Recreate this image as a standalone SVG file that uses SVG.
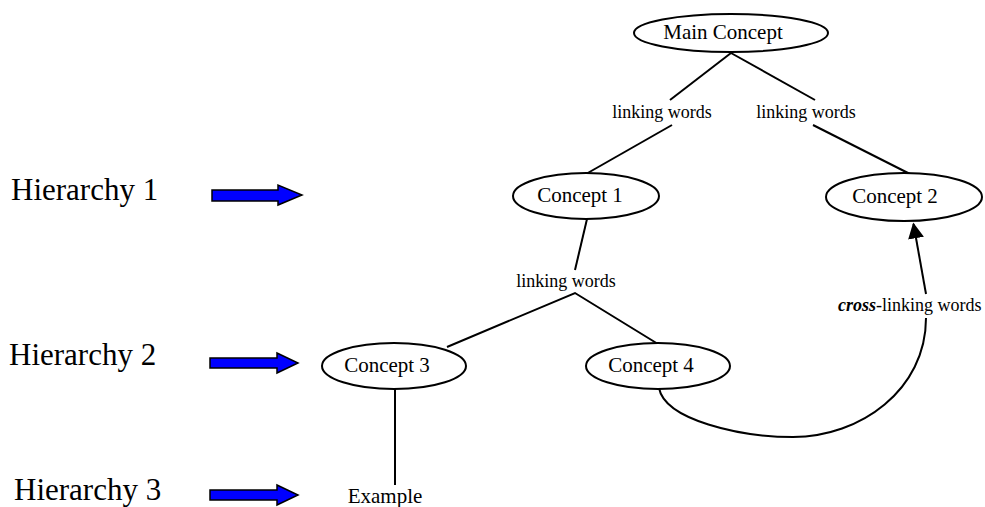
<svg xmlns="http://www.w3.org/2000/svg" width="985" height="507" viewBox="0 0 985 507">
  <defs>
    <style>
      .node { fill: #ffffff; stroke: #000000; stroke-width: 2; }
      .link { fill: none; stroke: #000000; stroke-width: 2; }
      .label { font-family: "Liberation Serif", "Times New Roman", serif; fill: #000000; }
      .concept { font-size: 21px; text-anchor: middle; }
      .words { font-size: 18px; text-anchor: middle; }
      .level { font-size: 31px; }
      .marker { fill: #0000ff; stroke: #000000; stroke-width: 1.5; stroke-linejoin: miter; }
    </style>
    <marker id="head" viewBox="0 0 10 10" refX="9" refY="5" markerWidth="16" markerHeight="16" orient="auto" markerUnits="userSpaceOnUse">
      <path d="M0,0 L10,5 L0,10 z" fill="#000000"/>
    </marker>
  </defs>

  <!-- level labels with blue block arrows -->
  <g id="level1">
    <text class="label level" x="11" y="200">Hierarchy 1</text>
    <path class="marker" d="M212,190 L278,190 L278,185 L302,195 L278,205 L278,201 L212,201 z"/>
  </g>
  <g id="level2">
    <text class="label level" x="9" y="365">Hierarchy 2</text>
    <path class="marker" d="M210,358 L277,358 L277,353 L298,363 L277,373 L277,368 L210,368 z"/>
  </g>
  <g id="level3">
    <text class="label level" x="14" y="500">Hierarchy 3</text>
    <path class="marker" d="M210,490 L277,490 L277,485 L298,495 L277,505 L277,500 L210,500 z"/>
  </g>

  <!-- connectors -->
  <g id="connectors">
    <line class="link" x1="731" y1="53" x2="670" y2="100"/>
    <line class="link" x1="731" y1="53" x2="815" y2="100"/>
    <line class="link" x1="672" y1="125" x2="586" y2="174"/>
    <line class="link" x1="813" y1="125" x2="910" y2="174"/>
    <line class="link" x1="587" y1="219" x2="575" y2="270"/>
    <polyline class="link" points="447,347 575,293 658,344"/>
    <line class="link" x1="395" y1="389" x2="395" y2="485"/>
    <line class="link" x1="926" y1="294" x2="913.5" y2="224" stroke-width="2.5" marker-end="url(#head)"/>
    <path class="link" d="M926,318 C926,390 860,437 793,437 C740,437 665,420 659,388"/>
  </g>

  <!-- concept nodes -->
  <g id="main-concept">
    <ellipse class="node" cx="731" cy="33" rx="97" ry="19"/>
    <text class="label concept" x="723" y="39">Main Concept</text>
  </g>
  <g id="concept-1">
    <ellipse class="node" cx="586" cy="196" rx="73" ry="23"/>
    <text class="label concept" x="580" y="202">Concept 1</text>
  </g>
  <g id="concept-2">
    <ellipse class="node" cx="904" cy="197" rx="78" ry="24"/>
    <text class="label concept" x="895" y="203">Concept 2</text>
  </g>
  <g id="concept-3">
    <ellipse class="node" cx="394" cy="366" rx="72" ry="23"/>
    <text class="label concept" x="387" y="372">Concept 3</text>
  </g>
  <g id="concept-4">
    <ellipse class="node" cx="658" cy="366" rx="72" ry="23"/>
    <text class="label concept" x="651" y="372">Concept 4</text>
  </g>
  <g id="example">
    <text class="label concept" x="385" y="503">Example</text>
  </g>

  <!-- linking phrases -->
  <g id="link-labels">
    <text class="label words" x="662" y="118">linking words</text>
    <text class="label words" x="806" y="118">linking words</text>
    <text class="label words" x="566" y="287">linking words</text>
    <text class="label" x="838" y="311" font-size="18"><tspan font-weight="bold" font-style="italic">cross</tspan>-linking words</text>
  </g>
</svg>
